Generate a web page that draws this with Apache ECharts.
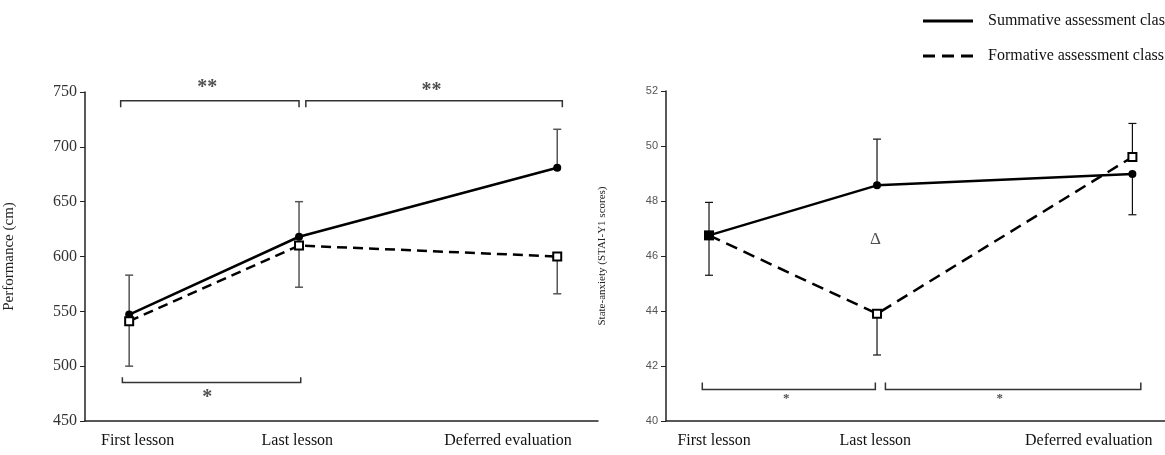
<!DOCTYPE html>
<html>
<head>
<meta charset="utf-8">
<script src="https://cdn.jsdelivr.net/npm/echarts@6/dist/echarts.min.js"></script>
<style>
  html, body { margin: 0; padding: 0; background: #fff; }
  #chart { width: 1165px; height: 455px; }
</style>
</head>
<body>
<div id="chart"></div>
<script>
// stages along the x axis (spacing is not even in the figure)
var stages = ['First lesson', 'Last lesson', 'Deferred evaluation']
var stagePos = [0, 1, 2.52]
var labelPosLeft = [0.05, 0.99, 2.23]
var labelPosRight = [0.03, 0.99, 2.26]

// left panel: performance (cm)
var perfSummative = [547, 618, 681]
var perfFormative = [541, 610, 600]
// end of each one-sided error bar
var perfSummativeErr = [583, 650, 716]
var perfFormativeErr = [500, 572, 566]

// right panel: state-anxiety
var anxSummative = [46.75, 48.57, 48.98]
var anxFormative = [46.75, 43.9, 49.6]
var anxSummativeErr = [47.95, 50.25, 47.5]
var anxFormativeErr = [45.3, 42.4, 50.82]

// significance brackets [xFrom, xTo, y, yTickEnd]
var perfBrackets = [[-0.05, 1.0, 742, 736], [1.04, 2.55, 742, 736], [-0.04, 1.01, 485, 490]]
var anxBrackets = [[-0.04, 0.99, 41.15, 41.4], [1.05, 2.57, 41.15, 41.4]]
// annotation marks [x, y, text, size, bold]
var perfNotes = [[0.46, 754, '**', 20, true], [1.78, 751, '**', 20, true], [0.46, 471, '*', 20, true]]
var anxNotes = [[0.46, 40.8, '*', 13, true], [1.73, 40.8, '*', 13, true], [0.99, 46.6, 'Δ', 17, false]]

var SERIF = 'Liberation Serif'
var nameSum = 'Summative assessment class'
var nameForm = 'Formative assessment class'

function zip(xs, ys) {
  return xs.map(function (x, i) { return [x, ys[i]] })
}

function errSeries(idx, vals, ends, color, width) {
  return {
    type: 'custom',
    xAxisIndex: idx,
    yAxisIndex: idx,
    z: 1,
    silent: true,
    data: stagePos.map(function (x, i) { return [x, vals[i], ends[i]] }),
    encode: { x: 0, y: [1, 2] },
    renderItem: function (params, api) {
      var p = api.coord([api.value(0), api.value(1)])
      var e = api.coord([api.value(0), api.value(2)])
      var w = 4
      var st = { stroke: color, lineWidth: width }
      return {
        type: 'group',
        children: [
          { type: 'line', shape: { x1: p[0], y1: p[1], x2: e[0], y2: e[1] }, style: st },
          { type: 'line', shape: { x1: e[0] - w, y1: e[1], x2: e[0] + w, y2: e[1] }, style: st }
        ]
      }
    }
  }
}

function bracketSeries(idx, list) {
  return {
    type: 'custom',
    xAxisIndex: idx,
    yAxisIndex: idx,
    silent: true,
    data: list,
    renderItem: function (params, api) {
      var a = api.coord([api.value(0), api.value(3)])
      var b = api.coord([api.value(0), api.value(2)])
      var c = api.coord([api.value(1), api.value(2)])
      var d = api.coord([api.value(1), api.value(3)])
      return {
        type: 'polyline',
        shape: { points: [a, b, c, d] },
        style: { stroke: '#333', lineWidth: 1.5, fill: null }
      }
    }
  }
}

function noteSeries(idx, list) {
  return {
    type: 'scatter',
    xAxisIndex: idx,
    yAxisIndex: idx,
    clip: false,
    silent: true,
    symbolSize: 0.1,
    itemStyle: { color: 'transparent' },
    data: list.map(function (n) {
      return {
        value: [n[0], n[1]],
        name: n[2],
        label: { fontSize: n[3], fontWeight: n[4] ? 'bold' : 'normal' }
      }
    }),
    label: {
      show: true,
      position: 'inside',
      formatter: function (p) { return p.name },
      fontFamily: SERIF,
      color: '#222'
    }
  }
}

function xAxisFor(idx, min, max, labelPos) {
  return {
    type: 'value',
    gridIndex: idx,
    min: min,
    max: max,
    splitLine: { show: false },
    axisTick: { show: false },
    axisLine: { lineStyle: { color: '#222', width: 1.5 } },
    axisLabel: {
      customValues: labelPos,
      margin: 12,
      fontFamily: SERIF,
      fontSize: 16,
      color: '#111',
      formatter: function (v) {
        var best = 0
        for (var i = 1; i < labelPos.length; i++) {
          if (Math.abs(labelPos[i] - v) < Math.abs(labelPos[best] - v)) best = i
        }
        return stages[best]
      }
    }
  }
}

var chart = echarts.init(document.getElementById('chart'))
chart.setOption({
  backgroundColor: '#fff',
  animation: false,
  legend: {
    orient: 'vertical',
    left: 918,
    top: 8,
    itemWidth: 50,
    itemHeight: 14,
    itemGap: 19,
    selectedMode: false,
    textStyle: { fontFamily: SERIF, fontSize: 16, color: '#111', padding: [0, 0, 0, 10] },
    data: [
      { name: nameSum, icon: 'path://M0,0h50v3h-50z', itemStyle: { color: '#000' } },
      { name: nameForm, icon: 'path://M0,0h12v3h-12zM19,0h12v3h-12zM38,0h12v3h-12z', itemStyle: { color: '#000' } }
    ]
  },
  grid: [
    { left: 85, right: 567, top: 92, bottom: 34 },
    { left: 666, right: 0, top: 91, bottom: 34 }
  ],
  xAxis: [
    xAxisFor(0, -0.26, 2.76, labelPosLeft),
    xAxisFor(1, -0.256, 2.714, labelPosRight)
  ],
  yAxis: [
    {
      type: 'value',
      gridIndex: 0,
      min: 450,
      max: 750,
      interval: 50,
      name: 'Performance (cm)',
      nameLocation: 'middle',
      nameGap: 68,
      nameTextStyle: { fontFamily: SERIF, fontSize: 15, color: '#222' },
      splitLine: { show: false },
      axisLine: { show: true, onZero: false, lineStyle: { color: '#222', width: 1.5 } },
      axisTick: { show: true, length: 5, lineStyle: { color: '#222' } },
      axisLabel: { fontFamily: SERIF, fontSize: 16, color: '#333', margin: 8 }
    },
    {
      type: 'value',
      gridIndex: 1,
      min: 40,
      max: 52,
      interval: 2,
      name: 'State-anxiety (STAI-Y1 scores)',
      nameLocation: 'middle',
      nameGap: 58,
      nameTextStyle: { fontFamily: SERIF, fontSize: 11, color: '#222' },
      splitLine: { show: false },
      axisLine: { show: true, onZero: false, lineStyle: { color: '#222', width: 1.5 } },
      axisTick: { show: true, length: 5, lineStyle: { color: '#222' } },
      axisLabel: { fontFamily: 'Liberation Sans', fontSize: 11, color: '#555', margin: 8 }
    }
  ],
  series: [
    errSeries(0, perfSummative, perfSummativeErr, '#555', 1.5),
    errSeries(0, perfFormative, perfFormativeErr, '#555', 1.5),
    errSeries(1, anxSummative, anxSummativeErr, '#111', 1.2),
    errSeries(1, anxFormative, anxFormativeErr, '#111', 1.2),
    {
      name: nameSum,
      type: 'line',
      xAxisIndex: 0,
      yAxisIndex: 0,
      z: 3,
      data: zip(stagePos, perfSummative),
      symbol: 'circle',
      symbolSize: 8,
      itemStyle: { color: '#000' },
      lineStyle: { color: '#000', width: 2.5 }
    },
    {
      name: nameForm,
      type: 'line',
      xAxisIndex: 0,
      yAxisIndex: 0,
      z: 4,
      data: zip(stagePos, perfFormative),
      symbol: 'emptyRect',
      symbolSize: 8,
      itemStyle: { color: '#000', borderWidth: 1.2 },
      lineStyle: { color: '#000', width: 2.5, type: [10, 6] }
    },
    {
      name: nameSum,
      type: 'line',
      xAxisIndex: 1,
      yAxisIndex: 1,
      z: 3,
      data: zip(stagePos, anxSummative),
      symbol: 'circle',
      symbolSize: 8,
      itemStyle: { color: '#000' },
      lineStyle: { color: '#000', width: 2.5 }
    },
    {
      name: nameForm,
      type: 'line',
      xAxisIndex: 1,
      yAxisIndex: 1,
      z: 4,
      data: zip(stagePos, anxFormative).map(function (d, i) {
        return i === 0 ? { value: d, symbol: 'rect', symbolSize: 10 } : d
      }),
      symbol: 'emptyRect',
      symbolSize: 8,
      itemStyle: { color: '#000', borderWidth: 1.2 },
      lineStyle: { color: '#000', width: 2.5, type: [12, 7] }
    },
    bracketSeries(0, perfBrackets),
    bracketSeries(1, anxBrackets),
    noteSeries(0, perfNotes),
    noteSeries(1, anxNotes)
  ]
})
</script>
</body>
</html>
